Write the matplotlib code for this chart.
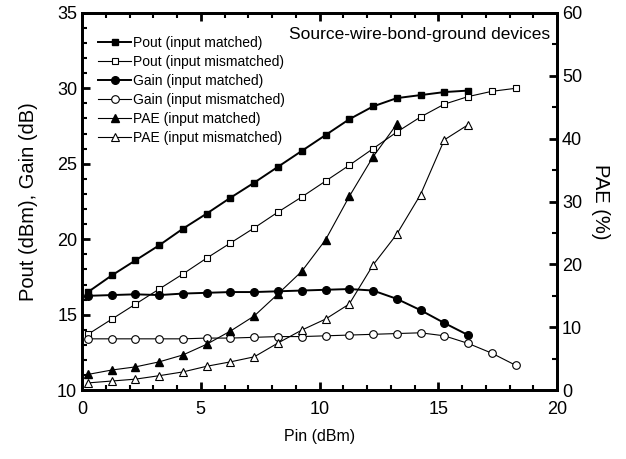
import numpy as np
import matplotlib
matplotlib.use('Agg')
import matplotlib.pyplot as plt
from matplotlib.ticker import MultipleLocator

plt.rcParams['font.family'] = ['Liberation Sans', 'DejaVu Sans']

# Pin (dBm) para cada serie
pin_19 = np.arange(19) + 0.25
pin_17 = pin_19[:17]
pin_14 = pin_19[:14]

pout_matched = [16.5, 17.6, 18.6, 19.6, 20.7, 21.7, 22.75, 23.75, 24.8, 25.85,
                26.9, 27.95, 28.8, 29.35, 29.55, 29.75, 29.85]
pout_mismatched = [13.7, 14.7, 15.7, 16.7, 17.7, 18.75, 19.75, 20.75, 21.8, 22.8,
                   23.85, 24.9, 26.0, 27.1, 28.1, 28.95, 29.45, 29.8, 30.0]
gain_matched = [16.25, 16.3, 16.35, 16.3, 16.4, 16.45, 16.5, 16.5, 16.55, 16.6,
                16.65, 16.7, 16.6, 16.05, 15.3, 14.45, 13.65]
gain_mismatched = [13.4, 13.4, 13.4, 13.4, 13.4, 13.45, 13.45, 13.5, 13.55, 13.55,
                   13.6, 13.65, 13.7, 13.75, 13.8, 13.6, 13.1, 12.45, 11.65]
pae_matched = [2.5, 3.2, 3.7, 4.5, 5.6, 7.3, 9.4, 11.8, 15.3, 18.9, 23.9, 30.8,
               37.1, 42.3]
pae_mismatched = [1.15, 1.45, 1.75, 2.3, 2.9, 3.8, 4.5, 5.3, 7.5, 9.55, 11.3, 13.7,
                  19.9, 24.8, 31.1, 39.8, 42.2]

fig = plt.figure(figsize=(6.26, 4.59), dpi=100)
ax = fig.add_axes([0.131, 0.150, 0.759, 0.822])
ax2 = ax.twinx()

lw_m = 1.4
lw_u = 0.8

l1, = ax.plot(pin_17, pout_matched, 'k-', marker='s', ms=5, mfc='k', lw=lw_m,
              label='Pout (input matched)')
l2, = ax.plot(pin_19, pout_mismatched, 'k-', marker='s', ms=5, mfc='white', mew=0.8,
              lw=lw_u, label='Pout (input mismatched)')
l3, = ax.plot(pin_17, gain_matched, 'k-', marker='o', ms=5.5, mfc='k', lw=lw_m,
              label='Gain (input matched)')
l4, = ax.plot(pin_19, gain_mismatched, 'k-', marker='o', ms=5.5, mfc='white', mew=0.8,
              lw=lw_u, label='Gain (input mismatched)')
l5, = ax2.plot(pin_14, pae_matched, 'k-', marker='^', ms=6, mfc='k', lw=lw_u,
               label='PAE (input matched)')
l6, = ax2.plot(pin_17, pae_mismatched, 'k-', marker='^', ms=6, mfc='white', mew=0.8,
               lw=lw_u, label='PAE (input mismatched)')

ax.set_xlim(0, 20)
ax.set_ylim(10, 35)
ax2.set_ylim(0, 60)

ax.xaxis.set_major_locator(MultipleLocator(5))
ax.xaxis.set_minor_locator(MultipleLocator(1))
ax.yaxis.set_major_locator(MultipleLocator(5))
ax.yaxis.set_minor_locator(MultipleLocator(1))
ax2.yaxis.set_major_locator(MultipleLocator(10))
ax2.yaxis.set_minor_locator(MultipleLocator(5))

for a in (ax, ax2):
    for s in a.spines.values():
        s.set_linewidth(2)
    a.tick_params(which='major', direction='in', length=6, width=2, labelsize=13)
    a.tick_params(which='minor', direction='in', length=3.5, width=1.5)
ax.tick_params(which='both', top=True, right=False)
ax.tick_params(axis='x', which='major', pad=8)
ax2.tick_params(which='both', left=False, right=True)

ax.set_xlabel('Pin (dBm)', fontsize=11.5, labelpad=8)
ax.set_ylabel('Pout (dBm), Gain (dB)', fontsize=14.5, labelpad=14)
ax2.set_ylabel('PAE (%)', fontsize=14.5, rotation=270, labelpad=20)

ax.text(0.985, 0.963, 'Source-wire-bond-ground devices', transform=ax.transAxes,
        ha='right', va='top', fontsize=12.5)

leg = ax.legend(handles=[l1, l2, l3, l4, l5, l6], loc='upper left', frameon=False,
                fontsize=10, handlelength=2.4, handletextpad=0.15, labelspacing=0.36,
                bbox_to_anchor=(0.013, 0.965), borderaxespad=0.3)

fig.savefig('out.png', dpi=100)
